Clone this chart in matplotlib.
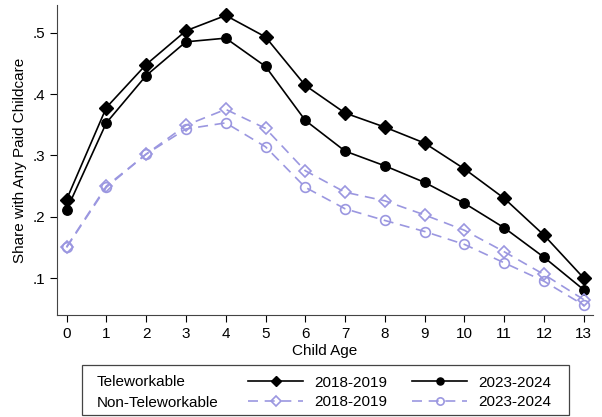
import numpy as np
import matplotlib.pyplot as plt
from matplotlib.patches import Rectangle

plt.rcParams['font.family'] = ['Liberation Sans', 'DejaVu Sans']

# Data
ages = np.arange(0, 14)
tele_1819 = [0.228, 0.378, 0.448, 0.503, 0.528, 0.493, 0.414, 0.369, 0.346, 0.320, 0.278, 0.230, 0.170, 0.100]
tele_2324 = [0.211, 0.353, 0.430, 0.485, 0.491, 0.445, 0.357, 0.307, 0.283, 0.256, 0.222, 0.182, 0.134, 0.081]
nontele_1819 = [0.151, 0.250, 0.302, 0.349, 0.375, 0.344, 0.275, 0.240, 0.226, 0.203, 0.178, 0.143, 0.106, 0.065]
nontele_2324 = [0.150, 0.248, 0.302, 0.343, 0.353, 0.314, 0.248, 0.213, 0.194, 0.176, 0.155, 0.125, 0.095, 0.056]

yticks = [0.1, 0.2, 0.3, 0.4, 0.5]
ytick_labels = ['.1', '.2', '.3', '.4', '.5']

purple = '#9b97e0'

fig = plt.figure(figsize=(6.02, 4.17), dpi=100)
ax = fig.add_axes([0.0947, 0.2446, 0.8903, 0.7434])

l1, = ax.plot(ages, tele_1819, color='black', lw=1.2, marker='D', ms=6.8)
l2, = ax.plot(ages, tele_2324, color='black', lw=1.2, marker='o', ms=6.8)
l3, = ax.plot(ages, nontele_1819, color=purple, lw=1.2, ls=(0, (6, 4)), marker='D', ms=6.5,
              mfc='none', mec=purple, mew=1.2)
l4, = ax.plot(ages, nontele_2324, color=purple, lw=1.2, ls=(0, (6, 4)), marker='o', ms=7,
              mfc='none', mec=purple, mew=1.2)

ax.set_xlim(-0.24, 13.23)
ax.set_ylim(0.040, 0.545)
ax.set_xticks(ages)
ax.set_yticks(yticks)
ax.set_yticklabels(ytick_labels)
ax.tick_params(labelsize=11, length=5, width=0.8, direction='out')
ax.spines['top'].set_visible(False)
ax.spines['right'].set_visible(False)
ax.spines['left'].set_color('#444444')
ax.spines['bottom'].set_color('#444444')
ax.set_xlabel('Child Age', fontsize=11, labelpad=2)
ax.set_ylabel('Share with Any Paid Childcare', fontsize=11, labelpad=4)

# Legend box
fig.patches.append(Rectangle((82 / 602, 1 - 415 / 417), (569 - 82) / 602, (415 - 365) / 417,
                             transform=fig.transFigure, fill=False, ec='#444444', lw=0.9))
fig.text(97 / 602, 1 - 382 / 417, 'Teleworkable', fontsize=11, va='center')
fig.text(97 / 602, 1 - 403 / 417, 'Non-Teleworkable', fontsize=11, va='center')
fig.legend([l1, l3, l2, l4], ['2018-2019', '2018-2019', '2023-2024', '2023-2024'],
           ncol=2, frameon=False, fontsize=11, handlelength=3.6, handletextpad=0.75,
           columnspacing=1.6, labelspacing=0.35, markerscale=0.75,
           loc='center left', bbox_to_anchor=(242 / 602, 1 - 392.5 / 417), borderaxespad=0)

fig.savefig('out.png', dpi=100)
